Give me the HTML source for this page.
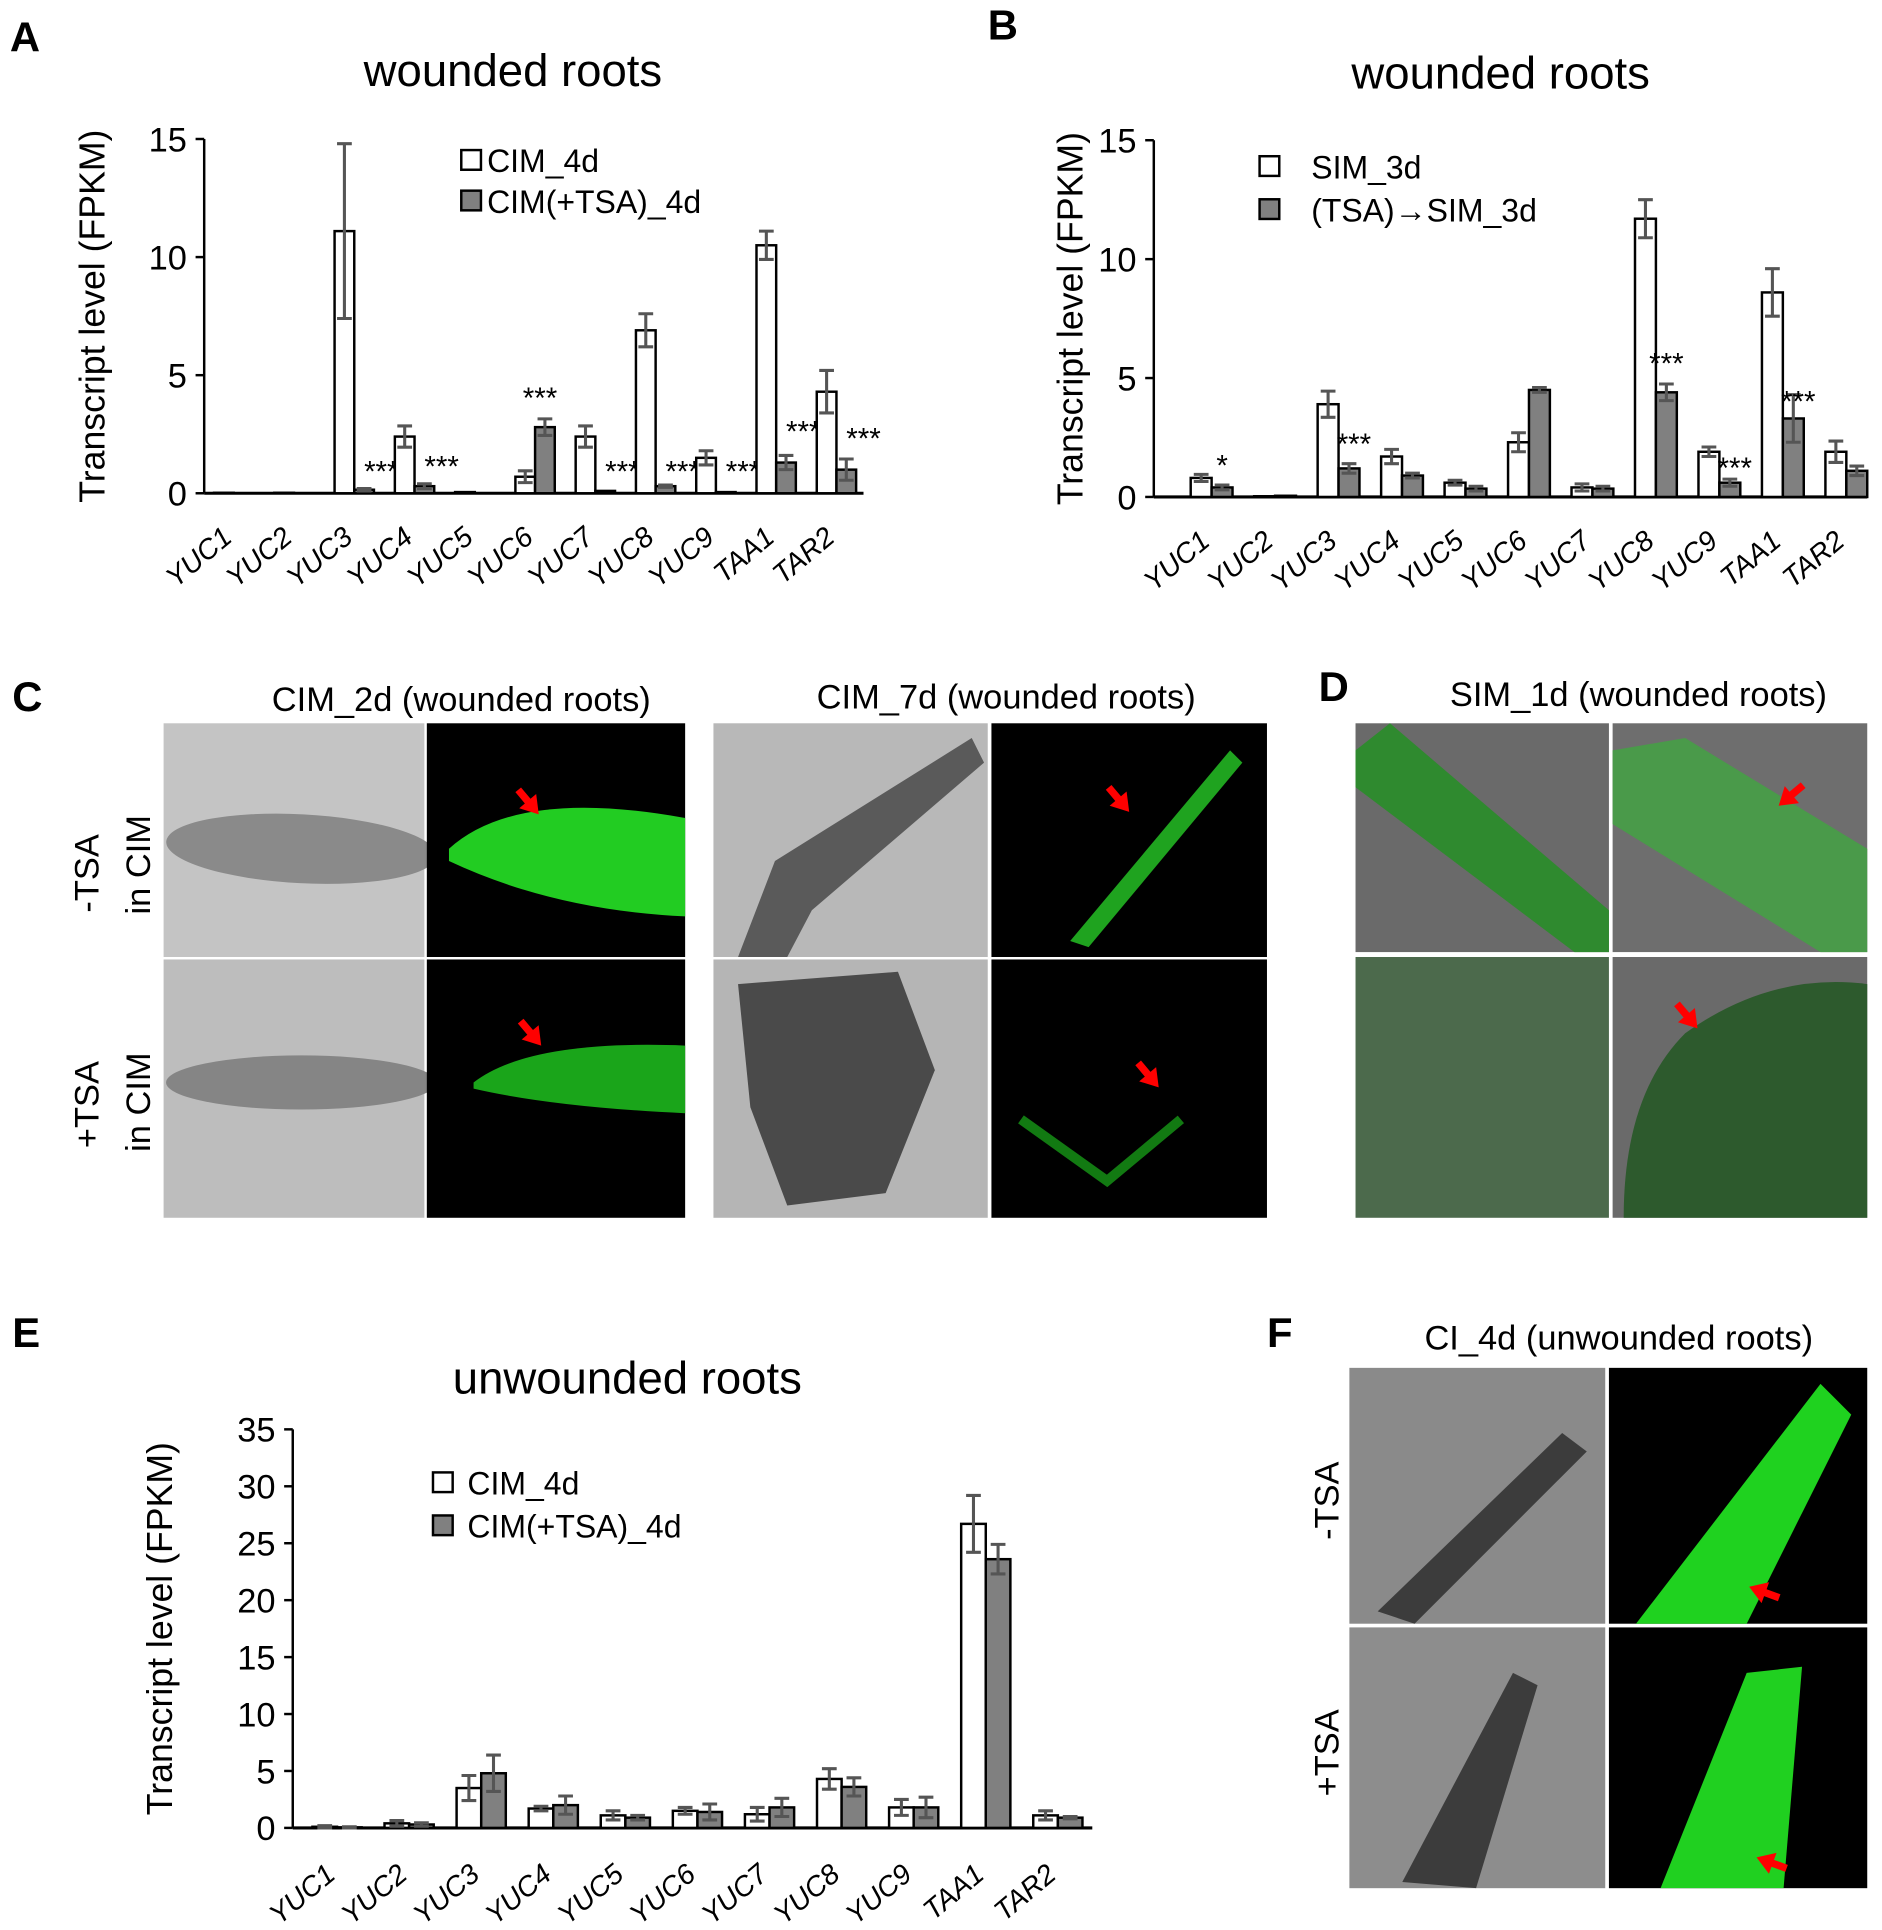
<!DOCTYPE html>
<html><head><meta charset="utf-8"><style>
html,body{margin:0;padding:0;background:#fff;width:1882px;height:1930px;overflow:hidden}
svg{display:block}
text{font-family:"Liberation Sans",Arial,sans-serif;fill:#000}
</style></head><body>
<svg id="s" width="1882" height="1930" viewBox="0 0 1530 1569" preserveAspectRatio="none" xmlns="http://www.w3.org/2000/svg">
<text x="8" y="42" font-size="34" font-weight="bold">A</text>
<text x="803" y="32" font-size="34" font-weight="bold">B</text>
<text x="10" y="578" font-size="34" font-weight="bold">C</text>
<text x="1072" y="570" font-size="34" font-weight="bold">D</text>
<text x="10" y="1095" font-size="34" font-weight="bold">E</text>
<text x="1030" y="1095" font-size="34" font-weight="bold">F</text>
<text x="417" y="70" font-size="37" text-anchor="middle">wounded roots</text>
<text x="1220" y="72" font-size="37" text-anchor="middle">wounded roots</text>
<text x="510" y="1133" font-size="37" text-anchor="middle">unwounded roots</text>
<text x="375" y="578" font-size="28" text-anchor="middle">CIM_2d (wounded roots)</text>
<text x="818" y="576" font-size="28" text-anchor="middle">CIM_7d (wounded roots)</text>
<text x="1332" y="574" font-size="28" text-anchor="middle">SIM_1d (wounded roots)</text>
<text x="1316" y="1097" font-size="28" text-anchor="middle">CI_4d (unwounded roots)</text>
<rect x="133" y="588" width="212" height="190" fill="#c4c4c4"/>
<ellipse cx="245" cy="690" rx="110" ry="28" fill="#8a8a8a" transform="rotate(3 245 690)"/>
<rect x="347" y="588" width="210" height="190" fill="#000"/>
<path d="M365 690 Q420 640 557 665 L557 745 Q450 740 365 700Z" fill="#22cc22"/>
<rect x="133" y="780" width="212" height="210" fill="#bdbdbd"/>
<ellipse cx="245" cy="880" rx="110" ry="22" fill="#858585"/>
<rect x="347" y="780" width="210" height="210" fill="#000"/>
<path d="M385 880 Q430 845 557 850 L557 905 Q450 900 385 885Z" fill="#1aa51a"/>
<rect x="580" y="588" width="223" height="190" fill="#b8b8b8"/>
<path d="M600 778 L630 700 L790 600 L800 620 L660 740 L640 778Z" fill="#5a5a5a"/>
<rect x="806" y="588" width="224" height="190" fill="#000"/>
<path d="M870 765 L1000 610 L1010 620 L885 770Z" fill="#1fa31f"/>
<rect x="580" y="780" width="223" height="210" fill="#b5b5b5"/>
<path d="M600 800 L730 790 L760 870 L720 970 L640 980 L610 900Z" fill="#4a4a4a"/>
<rect x="806" y="780" width="224" height="210" fill="#000"/>
<path d="M830 910 L900 960 L960 910" stroke="#127a12" stroke-width="8" fill="none"/>
<rect x="1102" y="588" width="206" height="186" fill="#6a6a6a"/>
<path d="M1102 610 L1130 588 L1308 740 L1308 774 L1280 774 L1102 640Z" fill="#2f8a2f"/>
<rect x="1311" y="588" width="207" height="186" fill="#6e6e6e"/>
<path d="M1311 610 L1370 600 L1518 690 L1518 774 L1480 774 L1311 670Z" fill="#4a9a4a"/>
<rect x="1102" y="778" width="206" height="212" fill="#4c6a4c"/>
<rect x="1311" y="778" width="207" height="212" fill="#6a6a6a"/>
<path d="M1370 840 Q1440 790 1518 800 L1518 990 L1320 990 Q1320 890 1370 840Z" fill="#2d5a2d"/>
<rect x="1097" y="1112" width="208" height="208" fill="#8a8a8a"/>
<path d="M1120 1310 L1270 1165 L1290 1180 L1150 1320Z" fill="#3c3c3c"/>
<rect x="1308" y="1112" width="210" height="208" fill="#000"/>
<path d="M1330 1320 L1480 1125 L1505 1150 L1420 1320Z" fill="#1fd21f"/>
<rect x="1097" y="1323" width="208" height="212" fill="#8d8d8d"/>
<path d="M1140 1530 L1230 1360 L1250 1370 L1200 1535Z" fill="#3c3c3c"/>
<rect x="1308" y="1323" width="210" height="212" fill="#000"/>
<path d="M1350 1535 L1420 1360 L1465 1355 L1450 1535Z" fill="#20d020"/>
<text transform="translate(80,710) rotate(-90)" font-size="28" text-anchor="middle">-TSA</text>
<text transform="translate(122,703) rotate(-90)" font-size="28" text-anchor="middle">in CIM</text>
<text transform="translate(80,898) rotate(-90)" font-size="28" text-anchor="middle">+TSA</text>
<text transform="translate(122,896) rotate(-90)" font-size="28" text-anchor="middle">in CIM</text>
<text transform="translate(1088,1220) rotate(-90)" font-size="28" text-anchor="middle">-TSA</text>
<text transform="translate(1088,1425) rotate(-90)" font-size="28" text-anchor="middle">+TSA</text>
<g id="charts"></g>
</svg>
<script>
var G=document.getElementById("charts"),h="";
var names=["YUC1","YUC2","YUC3","YUC4","YUC5","YUC6","YUC7","YUC8","YUC9","TAA1","TAR2"];
function arrow(x,y,ang){ // tip at x,y, pointing direction ang (deg)
 h+='<g transform="translate('+x+','+y+') rotate('+ang+')" fill="#ff0000"><path d="M0 0 L-14 -9 L-14 -3 L-26 -3 L-26 3 L-14 3 L-14 9Z"/></g>';
}
function chart(o){
 var sc=(o.y0-o.yt)/o.max;
 h+='<line x1="'+o.ax+'" y1="'+o.yt+'" x2="'+o.ax+'" y2="'+o.y0+'" stroke="#000" stroke-width="2"/>';
 h+='<line x1="'+o.ax+'" y1="'+o.y0+'" x2="'+o.xe+'" y2="'+o.y0+'" stroke="#000" stroke-width="2.5"/>';
 for(var t=0;t<=o.max;t+=o.step){var y=o.y0-t*sc;
  h+='<line x1="'+(o.ax-7)+'" y1="'+y+'" x2="'+o.ax+'" y2="'+y+'" stroke="#000" stroke-width="2"/>';
  h+='<text x="'+(o.ax-14)+'" y="'+(y+10)+'" font-size="28" text-anchor="end">'+t+'</text>';}
 h+='<text transform="translate('+o.lx+','+((o.y0+o.yt)/2)+') rotate(-90)" font-size="29" text-anchor="middle">Transcript level (FPKM)</text>';
 for(var i=0;i<11;i++){var x=o.x1+i*o.sp;
  [[o.w[i],o.ew[i],"#fff",x],[o.g[i],o.eg[i],"#808080",x+o.bw]].forEach(function(b){
   var top=o.y0-b[0]*sc;
   h+='<rect x="'+b[3]+'" y="'+top+'" width="'+o.bw+'" height="'+(b[0]*sc)+'" fill="'+b[2]+'" stroke="#000" stroke-width="2"/>';
   if(b[1]>0){var cx=b[3]+o.bw/2,e=b[1]*sc;
    h+='<path d="M'+cx+' '+(top-e)+' V'+(top+e)+' M'+(cx-6)+' '+(top-e)+' H'+(cx+6)+' M'+(cx-6)+' '+(top+e)+' H'+(cx+6)+'" stroke="#555" stroke-width="2.5" fill="none"/>';}
  });
  var lx=x+o.bw,ly=o.y0+o.ly;
  h+='<text transform="translate('+lx+','+ly+') rotate(-40)" font-size="23" font-style="italic" text-anchor="end">'+names[i]+'</text>';
  if(o.st&&o.st[i]){h+='<text x="'+(x+o.bw*1.5+o.st[i][1])+'" y="'+(o.y0-o.st[i][0]*sc)+'" font-size="24" text-anchor="middle">'+o.st[i][2]+'</text>';}
 }
}
chart({ax:166,y0:401,yt:113,max:15,step:5,xe:702,x1:174,sp:49,bw:16,lx:85,ly:38,
 w:[0.02,0.02,11.1,2.4,0.05,0.7,2.4,6.9,1.5,10.5,4.3],g:[0,0,0.15,0.3,0,2.8,0.1,0.3,0.05,1.3,1.0],
 ew:[0,0,3.7,0.45,0,0.25,0.45,0.7,0.3,0.6,0.9],eg:[0,0,0.05,0.1,0,0.35,0,0.05,0,0.3,0.45],
 st:[0,0,[0.5,14,"***"],[0.7,14,"***"],0,[3.6,-4,"***"],[0.5,14,"***"],[0.5,14,"***"],[0.5,14,"***"],[2.2,14,"***"],[1.9,14,"***"]]});
chart({ax:938,y0:404,yt:114,max:15,step:5,xe:1518,x1:968,sp:51.6,bw:17,lx:880,ly:38,
 w:[0.8,0.03,3.9,1.7,0.6,2.3,0.4,11.7,1.9,8.6,1.9],g:[0.4,0.05,1.2,0.9,0.35,4.5,0.35,4.4,0.6,3.3,1.1],
 ew:[0.15,0,0.55,0.3,0.1,0.4,0.15,0.8,0.2,1.0,0.45],eg:[0.1,0,0.2,0.1,0.1,0.1,0.1,0.35,0.15,1.0,0.2],
 st:[[0.9,0,"*"],0,[1.8,4,"***"],0,0,0,0,[5.2,0,"***"],[0.8,4,"***"],[3.6,4,"***"],0]});
chart({ax:238,y0:1486,yt:1162,max:35,step:5,xe:888,x1:254,sp:58.6,bw:20,lx:140,ly:40,
 w:[0.1,0.4,3.5,1.7,1.1,1.5,1.2,4.3,1.8,26.7,1.1],g:[0.05,0.3,4.8,2.0,0.9,1.4,1.8,3.6,1.8,23.6,0.9],
 ew:[0.1,0.25,1.1,0.2,0.4,0.3,0.6,0.9,0.7,2.5,0.4],eg:[0.05,0.15,1.6,0.8,0.2,0.7,0.8,0.8,0.9,1.3,0.1]});
h+='<rect x="375" y="122" width="16" height="16" fill="#fff" stroke="#000" stroke-width="2"/><text x="396" y="140" font-size="26">CIM_4d</text>';
h+='<rect x="375" y="155" width="16" height="16" fill="#808080" stroke="#000" stroke-width="2"/><text x="396" y="173" font-size="26">CIM(+TSA)_4d</text>';
h+='<rect x="1024" y="127" width="16" height="16" fill="#fff" stroke="#000" stroke-width="2"/><text x="1066" y="145" font-size="26">SIM_3d</text>';
h+='<rect x="1024" y="162" width="16" height="16" fill="#808080" stroke="#000" stroke-width="2"/><text x="1066" y="180" font-size="26">(TSA)→SIM_3d</text>';
h+='<rect x="352" y="1197" width="16" height="16" fill="#fff" stroke="#000" stroke-width="2"/><text x="380" y="1215" font-size="26">CIM_4d</text>';
h+='<rect x="352" y="1232" width="16" height="16" fill="#808080" stroke="#000" stroke-width="2"/><text x="380" y="1250" font-size="26">CIM(+TSA)_4d</text>';
arrow(438,662,50);arrow(918,660,50);arrow(440,850,50);arrow(942,884,50);
arrow(1446,655,140);arrow(1380,836,50);arrow(1422,1290,200);arrow(1428,1510,200);
G.innerHTML=h;
</script>
</body></html>
